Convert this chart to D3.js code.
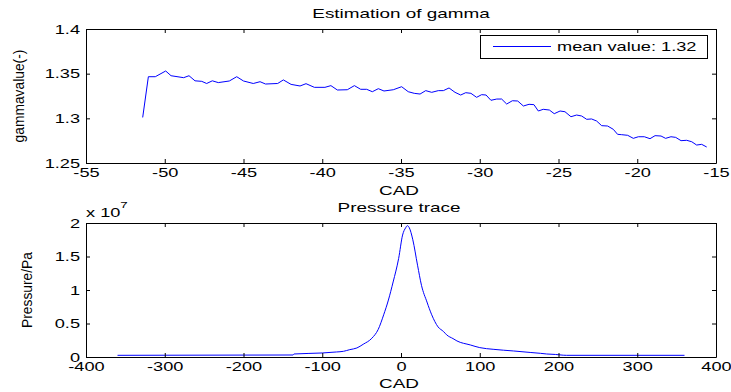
<!DOCTYPE html>
<html>
<head>
<meta charset="utf-8">
<script src="https://cdn.jsdelivr.net/npm/d3@7"></script>
<style>
body { margin: 0; background: #fff; }
svg text { font-family: "Liberation Sans", Arial, sans-serif; fill: #000; }
</style>
</head>
<body>
<svg width="731" height="392"></svg>
<script>
// gamma estimate per crank angle
var gammaCad = [-51.4, -51.04, -50.6, -49.94, -49.6, -48.8, -48.46, -48.08, -47.65, -47.34, -46.98, -46.6,
  -45.9, -45.43, -45.0, -44.38, -43.95, -43.6, -42.83, -42.47, -41.98, -41.41, -41.03, -40.5, -39.83,
  -39.45, -39.04, -38.41, -37.96, -37.56, -37.18, -36.82, -36.44, -36.08, -35.49, -34.96, -34.54, -34.16,
  -33.79, -33.43, -33.05, -32.63, -32.31, -31.95, -31.57, -31.21, -30.89, -30.56, -30.2, -29.88, -29.6,
  -29.29, -28.92, -28.61, -28.29, -27.93, -27.59, -27.23, -26.87, -26.56, -26.28, -25.97, -25.58, -25.27,
  -24.9, -24.59, -24.21, -23.85, -23.53, -23.21, -22.9, -22.58, -22.26, -21.88, -21.52, -21.25, -20.99,
  -20.61, -20.25, -19.93, -19.55, -19.19, -18.87, -18.49, -18.2, -17.86, -17.56, -17.22, -16.86, -16.54,
  -16.23, -15.91, -15.59];
var gammaValue = [1.301, 1.3466, 1.3466, 1.353, 1.3477, 1.3455, 1.3477, 1.342, 1.3414, 1.339, 1.342, 1.340,
  1.3418, 1.3466, 1.3418, 1.339, 1.341, 1.3384, 1.339, 1.343, 1.338, 1.3362, 1.3388, 1.3347, 1.3347,
  1.3366, 1.3317, 1.332, 1.3366, 1.3325, 1.3325, 1.3298, 1.3332, 1.3306, 1.332, 1.3354, 1.3298, 1.328,
  1.3272, 1.331, 1.3291, 1.331, 1.331, 1.334, 1.3291, 1.3261, 1.3287, 1.328, 1.3235, 1.3265, 1.3261,
  1.3202, 1.3216, 1.3216, 1.316, 1.3197, 1.3194, 1.3138, 1.3157, 1.3153, 1.3082, 1.3101, 1.3093, 1.3052,
  1.3082, 1.3074, 1.3018, 1.3037, 1.3026, 1.2989, 1.2993, 1.297, 1.2918, 1.2914, 1.2877, 1.2821, 1.2817,
  1.281, 1.2776, 1.2794, 1.2794, 1.2772, 1.2806, 1.2802, 1.2776, 1.2794, 1.2787, 1.275, 1.2754, 1.2738,
  1.2701, 1.2709, 1.2679];

// pressure trace, Pa
var pressureCad = [-360, -137, -136, -100, -82, -73, -65, -56, -48, -37, -29, -22, -16, -10, -3, 2, 6, 8,
  10.5, 15, 21, 26, 33, 39, 47, 54, 58, 66, 71, 88, 100, 117, 143, 164, 177, 185, 196, 206, 210, 360];
var pressureValue = [0.25e6, 0.3e6, 0.45e6, 0.6e6, 0.75e6, 0.85e6, 1.1e6, 1.35e6, 1.9e6, 2.8e6, 4.1e6,
  6.3e6, 8.5e6, 11.2e6, 14.7e6, 18.2e6, 19.3e6, 19.6e6, 19.3e6, 17.5e6, 13.7e6, 10.7e6, 8.2e6, 6.3e6,
  4.5e6, 3.8e6, 3.3e6, 2.75e6, 2.4e6, 1.8e6, 1.4e6, 1.15e6, 0.9e6, 0.68e6, 0.55e6, 0.45e6, 0.38e6,
  0.27e6, 0.25e6, 0.25e6];

var gammaXTicks = [-55, -50, -45, -40, -35, -30, -25, -20, -15];
var gammaYTicks = [1.25, 1.3, 1.35, 1.4];
var pressureXTicks = [-400, -300, -200, -100, 0, 100, 200, 300, 400];
var pressureYTicks = [0, 0.5e7, 1e7, 1.5e7, 2e7];
var legendText = "mean value: 1.32";

var SX = 1.4;   // horizontal text looks stretched in the original
var left = 86, right = 716;
var svg = d3.select("svg");

function box(xScale, yScale, xTicks, yTicks, yFmt) {
  var top = yScale.range()[1], bottom = yScale.range()[0];
  var g = svg.append("g");

  g.append("g").attr("transform", "translate(0," + bottom + ")")
    .call(d3.axisBottom(xScale).tickValues(xTicks).tickSizeInner(-4).tickSizeOuter(0)
      .tickPadding(5).tickFormat(function(d) { return String(d); }))
    .selectAll("text").attr("font-size", 13).attr("transform", "scale(" + SX + ",1)");

  g.append("g").attr("transform", "translate(0," + top + ")")
    .call(d3.axisTop(xScale).tickValues(xTicks).tickSizeInner(-4).tickSizeOuter(0).tickFormat(""));

  g.append("g").attr("transform", "translate(" + left + ",0)")
    .call(d3.axisLeft(yScale).tickValues(yTicks).tickSizeInner(-4).tickSizeOuter(0)
      .tickPadding(6 / SX).tickFormat(yFmt))
    .selectAll("text").attr("font-size", 13).attr("transform", "scale(" + SX + ",1)");

  g.append("g").attr("transform", "translate(" + right + ",0)")
    .call(d3.axisRight(yScale).tickValues(yTicks).tickSizeInner(-4).tickSizeOuter(0).tickFormat(""));

  g.selectAll(".domain").attr("stroke", "#000");
  g.selectAll(".tick line").attr("stroke", "#000");
  return g;
}

function label(x, y, txt, size) {
  svg.append("text")
    .attr("transform", "translate(" + x + "," + y + ") scale(" + SX + ",1)")
    .attr("text-anchor", "middle")
    .attr("font-size", size)
    .text(txt);
}

// top: gamma
var x1 = d3.scaleLinear().domain([-55, -15]).range([left, right]);
var y1 = d3.scaleLinear().domain([1.25, 1.4]).range([163, 29]);

svg.append("path")
  .datum(d3.zip(gammaCad, gammaValue))
  .attr("fill", "none")
  .attr("stroke", "#0000ff")
  .attr("stroke-width", 1)
  .attr("d", d3.line().x(function(d) { return x1(d[0]); }).y(function(d) { return y1(d[1]); }));

box(x1, y1, gammaXTicks, gammaYTicks, function(d) { return String(d); });

label(401, 17.5, "Estimation of gamma", 13.5);
label(399, 194.5, "CAD", 13.5);
svg.append("text")
  .attr("transform", "translate(23.5,96) rotate(-90)")
  .attr("text-anchor", "middle")
  .attr("font-size", 13.8)
  .text("gammavalue(-)");

// legend
var lg = svg.append("g");
lg.append("rect").attr("x", 480.5).attr("y", 35.5).attr("width", 227).attr("height", 23)
  .attr("fill", "#fff").attr("stroke", "#000");
lg.append("line").attr("x1", 493).attr("x2", 551).attr("y1", 46.5).attr("y2", 46.5)
  .attr("stroke", "#0000ff");
lg.append("text")
  .attr("transform", "translate(557,51) scale(" + SX + ",1)")
  .attr("font-size", 13)
  .text(legendText);

// bottom: pressure
var x2 = d3.scaleLinear().domain([-400, 400]).range([left, right]);
var y2 = d3.scaleLinear().domain([0, 2e7]).range([357, 223]);

svg.append("path")
  .datum(d3.zip(pressureCad, pressureValue))
  .attr("fill", "none")
  .attr("stroke", "#0000ff")
  .attr("stroke-width", 1)
  .attr("d", d3.line().curve(d3.curveMonotoneX)
    .x(function(d) { return x2(d[0]); }).y(function(d) { return y2(d[1]); }));

box(x2, y2, pressureXTicks, pressureYTicks, function(d) { return String(d / 1e7); });

label(399, 212, "Pressure trace", 13.5);
label(399, 388, "CAD", 13.5);
svg.append("text")
  .attr("transform", "translate(32,290) rotate(-90)")
  .attr("text-anchor", "middle")
  .attr("font-size", 13.8)
  .text("Pressure/Pa");

// exponent label
var ex = svg.append("text")
  .attr("transform", "translate(86,217) scale(" + SX + ",1)")
  .attr("font-size", 13);
ex.append("tspan").text("x 10");
ex.append("tspan").attr("dy", -9).attr("font-size", 9.5).text("7");
</script>
</body>
</html>
